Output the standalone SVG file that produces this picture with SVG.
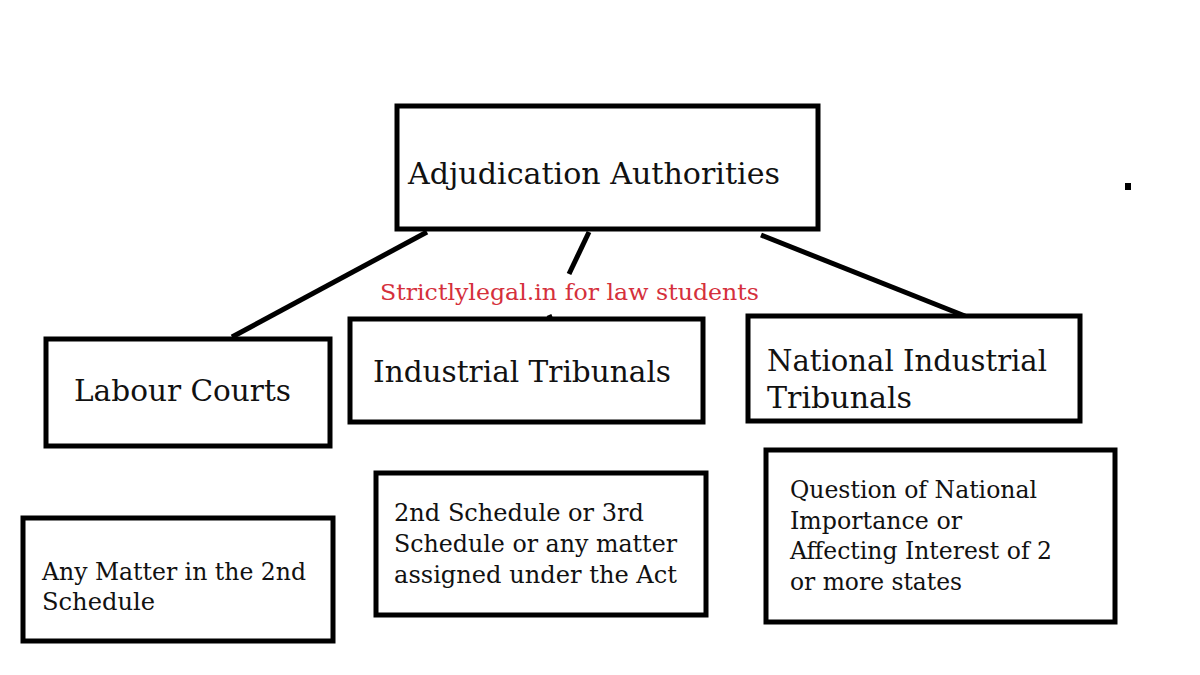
<svg xmlns="http://www.w3.org/2000/svg" width="1200" height="675" viewBox="0 0 1200 675">
<style>
.box{fill:#fff;stroke:#000;stroke-width:5}
.t{font-family:"DejaVu Serif","Liberation Serif",serif;fill:#111}
.big{font-size:29px}
.mid{font-size:24px}
.wm{font-family:"DejaVu Serif","Liberation Serif",serif;font-size:23px;fill:#d5303c}
.ln{stroke:#000;stroke-width:5;fill:none}
</style>
<rect width="1200" height="675" fill="#fff"/>
<g id="connectors">
<line class="ln" x1="427" y1="232" x2="232" y2="337"/>
<line class="ln" x1="589" y1="232" x2="569" y2="274"/>
<line class="ln" x1="549" y1="315" x2="551" y2="320"/>
<line class="ln" x1="761" y1="235" x2="965" y2="316"/>
</g>
<g id="root">
<rect class="box" x="397" y="106" width="421" height="123"/>
<text class="t big" x="408" y="184" textLength="372" lengthAdjust="spacingAndGlyphs">Adjudication Authorities</text>
</g>
<g id="labour-courts">
<rect class="box" x="46" y="339" width="284" height="107"/>
<text class="t big" x="74" y="401" textLength="217" lengthAdjust="spacingAndGlyphs">Labour Courts</text>
</g>
<g id="industrial-tribunals">
<rect class="box" x="350" y="319" width="353" height="103"/>
<text class="t big" x="373" y="382" textLength="298" lengthAdjust="spacingAndGlyphs">Industrial Tribunals</text>
</g>
<g id="national-industrial-tribunals">
<rect class="box" x="748" y="316" width="332" height="105"/>
<text class="t big" x="767" y="371" textLength="280" lengthAdjust="spacingAndGlyphs">National Industrial</text>
<text class="t big" x="767" y="408" textLength="145" lengthAdjust="spacingAndGlyphs">Tribunals</text>
</g>
<g id="labour-scope">
<rect class="box" x="23" y="518" width="310" height="123"/>
<text class="t mid" x="42" y="580" textLength="264" lengthAdjust="spacingAndGlyphs">Any Matter in the 2nd</text>
<text class="t mid" x="42" y="610" textLength="113" lengthAdjust="spacingAndGlyphs">Schedule</text>
</g>
<g id="industrial-scope">
<rect class="box" x="376" y="473" width="330" height="142"/>
<text class="t mid" x="394" y="521" textLength="250" lengthAdjust="spacingAndGlyphs">2nd Schedule or 3rd</text>
<text class="t mid" x="394" y="552" textLength="283" lengthAdjust="spacingAndGlyphs">Schedule or any matter</text>
<text class="t mid" x="394" y="583" textLength="283" lengthAdjust="spacingAndGlyphs">assigned under the Act</text>
</g>
<g id="national-scope">
<rect class="box" x="766" y="450" width="349" height="172"/>
<text class="t mid" x="790" y="498" textLength="247" lengthAdjust="spacingAndGlyphs">Question of National</text>
<text class="t mid" x="790" y="529" textLength="172" lengthAdjust="spacingAndGlyphs">Importance or</text>
<text class="t mid" x="790" y="559" textLength="262" lengthAdjust="spacingAndGlyphs">Affecting Interest of 2</text>
<text class="t mid" x="790" y="590" textLength="172" lengthAdjust="spacingAndGlyphs">or more states</text>
</g>
<text class="wm" x="380" y="300" textLength="379" lengthAdjust="spacingAndGlyphs">Strictlylegal.in for law students</text>
<rect x="1125" y="183" width="6" height="7" fill="#000"/>
</svg>
